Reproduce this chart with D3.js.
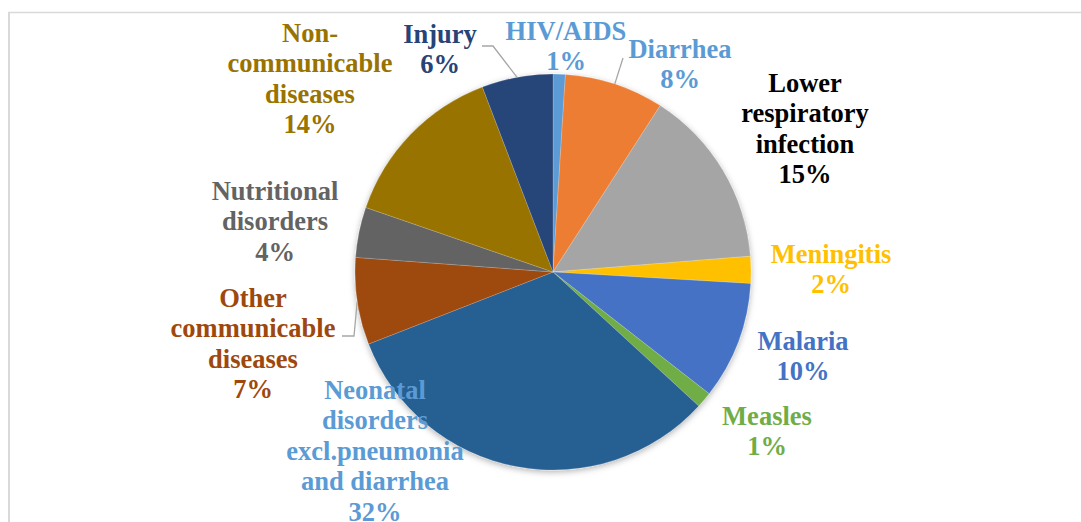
<!DOCTYPE html>
<html>
<head>
<meta charset="utf-8">
<script src="https://cdn.jsdelivr.net/npm/d3@7"></script>
<style>
  body { margin: 0; background: #fff; }
</style>
</head>
<body>
<div id="container"></div>
<script>
// values (clockwise from 12 o'clock)
var categories = [
  ["HIV/AIDS"],
  ["Diarrhea"],
  ["Lower", "respiratory", "infection"],
  ["Meningitis"],
  ["Malaria"],
  ["Measles"],
  ["Neonatal", "disorders", "excl.pneumonia", "and diarrhea"],
  ["Other", "communicable", "diseases"],
  ["Nutritional", "disorders"],
  ["Non-", "communicable", "diseases"],
  ["Injury"]
];
var values = [1.0, 8.1, 14.6, 2.2, 9.6, 1.3, 32.2, 7.1, 4.1, 13.9, 5.8];

var sliceColors = ["#5B9BD5", "#ED7D31", "#A5A5A5", "#FFC000", "#4472C4", "#70AD47",
                   "#255E91", "#9E480E", "#636363", "#997300", "#264478"];
var labelColors = ["#5B9BD5", "#5B9BD5", "#000000", "#FFC000", "#4472C4", "#70AD47",
                   "#5B9BD5", "#9E480E", "#636363", "#997300", "#264478"];

// label layout: centre x and first baseline y
var labelPos = [[566, 40], [680, 58], [805, 92], [831, 263], [803, 350], [767, 425],
                [375, 399], [253, 307], [275, 200], [310, 42], [440, 43]];
// leader lines: label-side points, the last point goes to the slice edge
var leaders = { 1: [[623, 58]], 7: [[342, 336], [354, 336]], 10: [[482, 46], [493, 46]] };

var w = 1081;
var h = 522;
var cx = 553;
var cy = 272;
var r = 198;
var lineH = 30.4;

var svg = d3
  .select("#container")
  .append("svg")
  .attr("width", w)
  .attr("height", h);

// shadow for the pie
var filter = svg.append("defs").append("filter")
  .attr("id", "shadow")
  .attr("x", "-20%").attr("y", "-20%")
  .attr("width", "140%").attr("height", "140%");
filter.append("feDropShadow")
  .attr("dx", 0).attr("dy", 2)
  .attr("stdDeviation", 3)
  .attr("flood-color", "#000")
  .attr("flood-opacity", 0.3);

// chart frame
svg.append("line").attr("x1", 8).attr("x2", w).attr("y1", 12.5).attr("y2", 12.5)
  .attr("stroke", "#d9d9d9").attr("stroke-width", 1.4);
svg.append("line").attr("x1", 9).attr("x2", 9).attr("y1", 12).attr("y2", h)
  .attr("stroke", "#d9d9d9").attr("stroke-width", 2);

var pie = d3.pie().sort(null).value((d) => d);
var arcs = pie(values);
var total = d3.sum(values);
var arc = d3.arc().innerRadius(0).outerRadius(r);

var g = svg.append("g")
  .attr("transform", "translate(" + cx + "," + cy + ")");

g.append("g")
  .attr("filter", "url(#shadow)")
  .selectAll("path")
  .data(arcs)
  .enter()
  .append("path")
  .attr("d", arc)
  .attr("fill", (d, i) => sliceColors[i])
  .attr("stroke", "#ffffff")
  .attr("stroke-width", 0.3)
  .attr("stroke-opacity", 0.6);

// leader lines
Object.keys(leaders).forEach(function (k) {
  var a = arcs[k];
  var mid = (a.startAngle + a.endAngle) / 2;
  var pts = leaders[k].slice();
  pts.push([cx + r * Math.sin(mid), cy - r * Math.cos(mid)]);
  svg.append("path")
    .attr("d", d3.line()(pts))
    .attr("fill", "none")
    .attr("stroke", "#a6a6a6")
    .attr("stroke-width", 1.3);
});

// labels, one text element per line
arcs.forEach(function (a, i) {
  var lines = categories[i].concat([Math.round(a.value / total * 100) + "%"]);
  lines.forEach(function (s, j) {
    svg.append("text")
      .attr("x", labelPos[i][0])
      .attr("y", labelPos[i][1] + j * lineH)
      .attr("text-anchor", "middle")
      .attr("font-family", "'Liberation Serif'")
      .attr("font-weight", "bold")
      .attr("font-size", 26.5)
      .attr("fill", labelColors[i])
      .text(s);
  });
});
</script>
</body>
</html>
